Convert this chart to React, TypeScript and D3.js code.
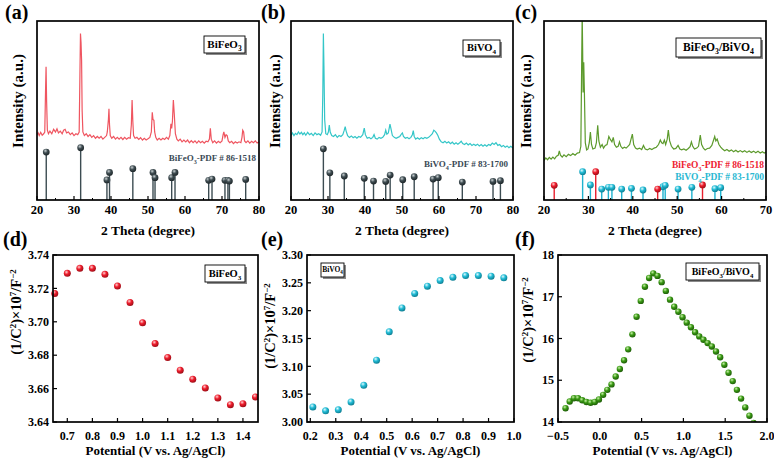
import React from "react";
import * as d3 from "d3";

const FONT = "'Liberation Serif','Times New Roman',Times,serif";

// ---------- XRD data (2θ, intensity in % of frame height) ----------
const bfoPattern: [number, number][] = [
  [20.0,36.5],[20.3,37.5],[20.6,36],[21.0,37.8],[21.4,36.2],[21.8,37],[22.1,38],[22.3,60],[22.45,74.5],[22.6,55],[22.8,39],
  [23.1,37],[23.5,38.5],[24.0,37],[24.5,39.5],[25.0,38],[25.4,39.8],[25.8,37.5],[26.3,38.5],[26.8,37],[27.2,39],[27.6,39.5],
  [28.0,37.5],[28.5,38],[29.0,36.5],[29.5,37.5],[30.0,36],[30.5,37],[31.0,36.5],[31.4,38],[31.6,70],[31.75,93],[31.9,88],
  [32.05,78],[32.2,50],[32.4,38],[32.8,36],[33.3,37],[33.8,35.5],[34.3,36.5],[34.8,35],[35.3,36],[35.8,34.5],[36.3,35.5],
  [36.8,34.5],[37.3,35.5],[37.8,34],[38.3,35],[38.8,36],[39.0,38],[39.3,45],[39.45,51],[39.6,42],[39.8,36],[40.2,34.5],
  [40.7,35.5],[41.2,34],[41.7,35],[42.2,34],[42.7,35],[43.2,33.8],[43.7,35],[44.2,34],[44.7,34.8],[45.2,34.5],[45.5,42],
  [45.7,55.8],[45.9,44],[46.1,36],[46.5,34.5],[47.0,35],[47.5,33.8],[48.0,34.8],[48.5,33.5],[49.0,34.5],[49.5,33.5],
  [50.0,34.2],[50.5,35],[50.9,38],[51.15,49],[51.35,45],[51.6,44.5],[51.8,38],[52.1,35],[52.5,33.5],[53.0,34.5],[53.5,33.5],
  [54.0,34.5],[54.5,33.8],[55.0,35],[55.5,34],[55.9,36],[56.2,42.5],[56.4,40],[56.6,44],[56.85,55.8],[57.1,48],[57.4,37],
  [57.8,34],[58.2,33],[58.7,34],[59.2,32.5],[59.7,33.5],[60.2,32.5],[60.7,33.5],[61.2,32],[61.7,33.2],[62.2,32],[62.7,33],
  [63.2,31.8],[63.7,33],[64.2,32],[64.7,32.8],[65.2,31.8],[65.7,32.8],[66.2,32.5],[66.6,34],[66.85,40],[67.1,34],[67.5,32],
  [68.0,33],[68.5,31.8],[69.0,32.8],[69.5,32],[70.0,33],[70.3,36.5],[70.5,38],[70.8,35],[71.1,36.5],[71.4,36],[71.7,33],
  [72.1,32],[72.6,32.8],[73.1,31.5],[73.6,32.5],[74.1,31.8],[74.6,32.5],[75.1,32],[75.4,35],[75.6,39],[75.85,38],[76.1,33],
  [76.5,32],[77.0,33],[77.5,31.8],[78.0,32.8],[78.5,32],[79.0,33],[79.5,31.8],[80.0,32.5],
];

const bvoPattern: [number, number][] = [
  [20.0,36],[20.4,37.5],[20.8,36],[21.2,37.2],[21.6,36.5],[22.0,38],[22.4,36.8],[22.8,37.8],[23.2,36.5],[23.6,37.5],
  [24.0,36.2],[24.5,37.8],[25.0,36.5],[25.5,37.2],[26.0,36],[26.5,37.5],[27.0,36.5],[27.5,37],[28.0,36.2],[28.4,38],
  [28.6,60],[28.75,93],[28.9,75],[29.1,45],[29.4,37],[29.8,36.5],[30.1,38],[30.35,41.8],[30.6,38],[31.0,36],[31.5,35.5],
  [32.0,36.5],[32.5,35],[33.0,36],[33.5,35.5],[34.0,36.5],[34.4,39],[34.65,41],[34.9,38.5],[35.3,36],[35.8,35],[36.3,35.8],
  [36.8,34.8],[37.3,35.5],[37.8,34.5],[38.3,35.5],[38.8,35],[39.4,36.5],[39.8,40.2],[40.1,36.5],[40.6,34.5],[41.1,35],
  [41.6,34.2],[42.1,35],[42.45,36.5],[42.8,34.5],[43.3,34],[43.8,35],[44.3,34.5],[44.8,35],[45.3,36.5],[45.6,39],[45.9,36.8],
  [46.3,37.5],[46.75,42.4],[47.0,40],[47.4,36],[47.9,35],[48.4,34.5],[48.9,35],[49.4,35.5],[49.9,37],[50.1,37.5],[50.4,35.5],
  [50.9,34.5],[51.4,35],[51.9,34.2],[52.4,35],[52.8,36.5],[53.05,38.8],[53.3,35.5],[53.7,34],[54.2,34.8],[54.7,34],
  [55.2,34.8],[55.7,34.2],[56.2,35],[56.7,34.5],[57.2,35],[57.7,36],[58.2,37],[58.6,39],[58.9,38.5],[59.3,37.5],[59.7,36],
  [60.1,34],[60.6,32.5],[61.1,32],[61.6,32.8],[62.1,31.8],[62.6,32.5],[63.1,31.5],[63.6,32.3],[64.1,31.2],[64.6,32],
  [65.1,31.2],[65.6,32],[66.0,32.8],[66.4,31.5],[66.9,31],[67.4,31.8],[67.9,30.8],[68.4,31.5],[68.9,30.5],[69.4,31.2],
  [69.9,30.5],[70.4,31.2],[70.9,30.2],[71.4,31],[71.9,30],[72.4,30.8],[72.9,30],[73.4,31],[73.9,30.5],[74.4,31.8],[74.9,31],
  [75.4,32],[75.9,30.5],[76.4,31],[76.9,29.8],[77.4,30.5],[77.9,29.5],[78.4,30.2],[78.9,29.2],[79.4,30],[80.0,29],
];

const compPattern: [number, number][] = [
  [20.0,22],[20.4,23.5],[20.8,22.5],[21.2,23.8],[21.6,22.8],[22.0,24],[22.4,23],[22.8,24.5],[23.2,25],[23.45,27.5],[23.7,25],
  [24.1,24],[24.5,25.2],[25.0,24.2],[25.5,25.5],[26.0,24.8],[26.5,26],[27.0,25],[27.5,26.2],[28.0,26.5],[28.3,30],[28.5,80],
  [28.6,104],[28.7,85],[28.8,60],[28.95,77],[29.1,60],[29.3,32],[29.6,28],[29.9,28.5],[30.2,32],[30.45,38],[30.7,31],
  [31.0,28.5],[31.5,29],[31.8,32],[32.1,41.8],[32.35,33],[32.7,29.5],[33.1,31],[33.4,29],[33.8,30.5],[34.2,31],[34.6,35.5],
  [34.9,34],[35.3,32.5],[35.6,35],[35.9,31],[36.3,29.5],[36.7,30],[37.0,32.5],[37.3,30],[37.7,28.8],[38.1,29.5],[38.5,29],
  [38.9,30],[39.3,31],[39.6,34],[39.9,36.8],[40.2,31],[40.6,29],[41.0,28.5],[41.5,29],[42.0,28.2],[42.4,30.5],[42.8,28.5],
  [43.3,28],[43.8,28.8],[44.3,28.2],[44.8,29],[45.3,29.5],[45.8,31],[46.2,33.5],[46.5,32],[46.8,31.5],[47.1,33.5],[47.4,31],
  [47.75,34],[48.0,39],[48.3,33],[48.7,30],[49.2,28.5],[49.7,28.8],[50.2,30.5],[50.6,28.5],[51.0,28],[51.5,28.5],[52.0,27.8],
  [52.5,28.8],[52.9,29.8],[53.2,32.5],[53.5,30],[53.9,28.5],[54.4,29],[54.8,30],[55.2,36.2],[55.5,31],[55.9,29],[56.3,28],
  [56.8,28.8],[57.3,29],[57.8,30.5],[58.2,33.5],[58.45,35.5],[58.7,33],[59.0,34],[59.4,31],[59.8,29.5],[60.2,28.5],[60.7,27.5],
  [61.2,28.2],[61.7,27.2],[62.2,28],[62.7,27],[63.2,27.8],[63.7,26.8],[64.2,27.6],[64.7,26.8],[65.2,27.5],[65.7,26.6],
  [66.2,27.4],[66.7,26.5],[67.2,27.3],[67.7,26.4],[68.2,27.2],[68.7,26.3],[69.2,27],[69.6,26.2],[70.0,26.8],
];

// reference sticks (2θ, height)
const bfoRefTheta = [22.5, 31.8, 38.9, 39.6, 45.9, 51.35, 51.9, 56.4, 57.3, 66.4, 67.3, 70.8, 71.6, 72.0, 76.4];
const bfoRefHeight = [26.8, 29.2, 11.2, 15.4, 17.5, 15.4, 12.5, 12.5, 15.4, 11, 11.7, 11, 11, 10.6, 11.5];
const bvoRefTheta = [28.75, 30.5, 34.4, 39.8, 42.3, 45.6, 46.8, 50.2, 53.3, 58.4, 59.8, 66.3, 74.6, 76.6];
const bvoRefHeight = [28.6, 15.2, 13.4, 12.1, 10.6, 10.4, 13.9, 11.3, 13, 11.7, 12.5, 10, 10.4, 10.8];
const compBfoRefTheta = [22.3, 31.65, 45.6, 55.7];
const compBfoRefHeight = [8.2, 15.8, 6.1, 8.4];
const compBvoRefTheta = [28.7, 30.45, 33.0, 34.5, 35.3, 37.5, 39.7, 42.3, 46.8, 47.3, 50.2, 53.3, 58.5, 59.8];
const compBvoRefHeight = [15.8, 8.4, 6.1, 7.1, 7.1, 6.1, 6.5, 5.6, 7.4, 8.2, 6.1, 7.1, 6.3, 6.9];

const xrdTicksAB = [20, 30, 40, 50, 60, 70, 80];
const xrdTicksC = [20, 30, 40, 50, 60, 70];

// ---------- Mott-Schottky data ----------
const bfoPotential = [0.65, 0.70, 0.75, 0.80, 0.85, 0.90, 0.95, 1.00, 1.05, 1.10, 1.15, 1.20, 1.25, 1.30, 1.35, 1.40, 1.45];
const bfoMS = [3.717, 3.729, 3.732, 3.732, 3.7284, 3.7214, 3.7116, 3.6994, 3.687, 3.6786, 3.671, 3.6656, 3.6604, 3.6544, 3.6504, 3.651, 3.655];
const bvoPotential = [0.21, 0.26, 0.31, 0.36, 0.41, 0.46, 0.51, 0.56, 0.61, 0.66, 0.71, 0.76, 0.81, 0.86, 0.91, 0.96];
const bvoMS = [3.027, 3.020, 3.022, 3.036, 3.066, 3.111, 3.162, 3.205, 3.231, 3.244, 3.254, 3.260, 3.263, 3.263, 3.262, 3.259];
const compPotential = [
  -0.41, -0.36, -0.31, -0.26, -0.21, -0.16, -0.11, -0.06, -0.01, 0.04, 0.09, 0.14, 0.19, 0.24, 0.29, 0.34, 0.39, 0.44,
  0.49, 0.54, 0.59, 0.64, 0.69, 0.74, 0.79, 0.84, 0.89, 0.94, 0.99, 1.04, 1.09, 1.14, 1.19, 1.24, 1.29, 1.34, 1.39,
  1.44, 1.49, 1.54, 1.59, 1.64, 1.69, 1.74, 1.79, 1.84,
];
const compMS = [
  14.33, 14.49, 14.57, 14.57, 14.52, 14.48, 14.46, 14.48, 14.54, 14.65, 14.77, 14.90, 15.09, 15.27, 15.48, 15.74, 16.10,
  16.52, 16.90, 17.24, 17.45, 17.56, 17.50, 17.35, 17.14, 16.93, 16.76, 16.64, 16.51, 16.38, 16.27, 16.15, 16.05, 15.97,
  15.89, 15.81, 15.69, 15.55, 15.37, 15.18, 14.98, 14.77, 14.56, 14.35, 14.15, 13.98,
];
const bfoMSTicksX = [0.7, 0.8, 0.9, 1.0, 1.1, 1.2, 1.3, 1.4];
const bfoMSTicksY = [3.64, 3.66, 3.68, 3.70, 3.72, 3.74];
const bvoMSTicksX = [0.2, 0.3, 0.4, 0.5, 0.6, 0.7, 0.8, 0.9, 1.0];
const bvoMSTicksY = [3.0, 3.05, 3.1, 3.15, 3.2, 3.25, 3.3];
const compMSTicksX = [-0.5, 0.0, 0.5, 1.0, 1.5, 2.0];
const compMSTicksY = [14, 15, 16, 17, 18];

type Box = { x0: number; x1: number; y0: number; y1: number };

function Sub({ t, fs }: { t: string; fs: number }) {
  return <tspan baselineShift={-fs * 0.28} fontSize={fs * 0.68}>{t}</tspan>;
}
function Sup({ t, fs }: { t: string; fs: number }) {
  return <tspan baselineShift={fs * 0.38} fontSize={fs * 0.62}>{t}</tspan>;
}

function LegendBox({ x, y, w, h, fs, children }: any) {
  return (
    <g>
      <rect x={x + 2} y={y + 2} width={w} height={h} fill="#8a8a8a" />
      <rect x={x} y={y} width={w} height={h} fill="#fff" stroke="#000" strokeWidth={0.9} />
      <text x={x + w / 2} y={y + h / 2} dy="0.3em" textAnchor="middle" fontSize={fs}>{children}</text>
    </g>
  );
}

function Stem({ x, yb, yt, ball, stem }: any) {
  return (
    <g>
      <line x1={x} x2={x} y1={yb} y2={yt} stroke={stem} strokeWidth={1.4} />
      <circle cx={x} cy={yt} r={3.4} fill={`url(#${ball})`} />
    </g>
  );
}

function XRDPanel({ box, ticks, xmax, pattern, color, id, label, children }: any) {
  const x = d3.scaleLinear().domain([20, xmax]).range([box.x0, box.x1]);
  const y = d3.scaleLinear().domain([0, 100]).range([box.y1, box.y0]);
  const line = d3.line<[number, number]>().x(d => x(d[0])).y(d => y(d[1]));
  const minor = d3.range(25, xmax, 10);
  return (
    <g>
      <defs>
        <clipPath id={id}>
          <rect x={box.x0} y={box.y0} width={box.x1 - box.x0} height={box.y1 - box.y0} />
        </clipPath>
      </defs>
      <g clipPath={`url(#${id})`}>
        <path d={line(pattern) || ""} fill="none" stroke={color} strokeWidth={1.2} />
        {children(x, y)}
      </g>
      <rect x={box.x0} y={box.y0} width={box.x1 - box.x0} height={box.y1 - box.y0} fill="none" stroke="#000" strokeWidth={1.7} />
      {ticks.map((t: number) => (
        <g key={t}>
          <line x1={x(t)} x2={x(t)} y1={box.y1} y2={box.y1 - 4} stroke="#000" strokeWidth={1.2} />
          <text x={x(t)} y={box.y1 + 14} textAnchor="middle" fontSize={12.5}>{t}</text>
        </g>
      ))}
      {minor.map((t: number) => (
        <line key={"m" + t} x1={x(t)} x2={x(t)} y1={box.y1} y2={box.y1 - 2} stroke="#000" strokeWidth={1} />
      ))}
      <text x={(box.x0 + box.x1) / 2} y={235} textAnchor="middle" fontSize={13.5}>2 Theta (degree)</text>
      <text x={label.yx} y={101} textAnchor="middle" fontSize={15} transform={`rotate(-90 ${label.yx} 101)`}>Intensity (a.u.)</text>
      <text x={label.px} y={19} fontSize={20}>{label.p}</text>
    </g>
  );
}

function MSPanel({ box, xd, yd, xs, ys, ticksX, ticksY, fmtX, fmtY, ball, r, label }: any) {
  const x = d3.scaleLinear().domain(xd).range([box.x0, box.x1]);
  const y = d3.scaleLinear().domain(yd).range([box.y1, box.y0]);
  const id = "clip-" + ball;
  const fs = 14.5;
  return (
    <g>
      <defs>
        <clipPath id={id}>
          <rect x={box.x0 - 6} y={box.y0} width={box.x1 - box.x0 + 6} height={box.y1 - box.y0} />
        </clipPath>
      </defs>
      <g clipPath={`url(#${id})`}>
        {xs.map((v: number, i: number) => (
          <circle key={i} cx={x(v)} cy={y(ys[i])} r={r} fill={`url(#${ball})`} />
        ))}
      </g>
      <rect x={box.x0} y={box.y0} width={box.x1 - box.x0} height={box.y1 - box.y0} fill="none" stroke="#000" strokeWidth={1.7} />
      {ticksX.map((t: number) => (
        <g key={"x" + t}>
          <line x1={x(t)} x2={x(t)} y1={box.y1} y2={box.y1 - 4} stroke="#000" strokeWidth={1.2} />
          <text x={x(t)} y={440} textAnchor="middle" fontSize={12}>{fmtX(t)}</text>
        </g>
      ))}
      {ticksY.map((t: number) => (
        <g key={"y" + t}>
          <line x1={box.x0} x2={box.x0 + 4} y1={y(t)} y2={y(t)} stroke="#000" strokeWidth={1.2} />
          <text x={box.x0 - 4} y={y(t)} dy="0.35em" textAnchor="end" fontSize={12}>{fmtY(t)}</text>
        </g>
      ))}
      <text x={(box.x0 + box.x1) / 2} y={455} textAnchor="middle" fontSize={13}>Potential (V vs. Ag/AgCl)</text>
      <text x={label.yx} y={label.yy} textAnchor="middle" fontSize={fs} transform={`rotate(-90 ${label.yx} ${label.yy})`}>
        (1/C<Sup t="2" fs={fs} />)×10<Sup t="7" fs={fs} />/F<Sup t="−2" fs={fs} />
      </text>
      <text x={label.px} y={246} fontSize={20}>{label.p}</text>
    </g>
  );
}

function Grad({ id, light, mid, dark }: any) {
  return (
    <radialGradient id={id} cx="0.38" cy="0.32" r="0.7">
      <stop offset="0" stopColor={light} />
      <stop offset="0.45" stopColor={mid} />
      <stop offset="1" stopColor={dark} />
    </radialGradient>
  );
}

export default function App() {
  const boxA: Box = { x0: 37, x1: 259, y0: 21, y1: 200 };
  const boxB: Box = { x0: 291, x1: 513, y0: 21, y1: 200 };
  const boxC: Box = { x0: 544, x1: 766, y0: 21, y1: 200 };
  const boxD: Box = { x0: 53, x1: 258, y0: 255, y1: 422 };
  const boxE: Box = { x0: 307, x1: 514, y0: 255, y1: 422 };
  const boxF: Box = { x0: 558, x1: 767, y0: 255, y1: 422 };
  const stemCol = "#3c4c52";
  return (
    <svg width={774} height={459} style={{ position: "absolute", left: 0, top: 0, background: "#fff" }}
      fontFamily={FONT} fontWeight="bold">
      <defs>
        <Grad id="ball-gray" light="#c9d0d2" mid="#3f4d52" dark="#1c2427" />
        <Grad id="ball-red" light="#ffd0d0" mid="#ee1c2c" dark="#9a0d16" />
        <Grad id="ball-cyan" light="#e0fbff" mid="#22bcd6" dark="#0d7c90" />
        <Grad id="ball-green" light="#c8f0a8" mid="#3a9a14" dark="#1c5a06" />
      </defs>
      <rect x={0} y={0} width={774} height={459} fill="#fff" />

      {/* (a) */}
      <XRDPanel box={boxA} ticks={xrdTicksAB} xmax={80} pattern={bfoPattern} color="#ef5560" id="clipA"
        label={{ yx: 23, px: 5, p: "(a)" }}>
        {(x: any, y: any) => bfoRefTheta.map((t, i) => (
          <Stem key={i} x={x(t)} yb={boxA.y1} yt={y(bfoRefHeight[i])} ball="ball-gray" stem={stemCol} />
        ))}
      </XRDPanel>
      <text x={256} y={161} textAnchor="end" fontSize={9} fill="#3a4a55">BiFeO<Sub t="3" fs={9} />-PDF # 86-1518</text>
      <LegendBox x={204} y={36} w={41} h={17} fs={11}>BiFeO<Sub t="3" fs={11} /></LegendBox>

      {/* (b) */}
      <XRDPanel box={boxB} ticks={xrdTicksAB} xmax={80} pattern={bvoPattern} color="#34c6c8" id="clipB"
        label={{ yx: 280, px: 261, p: "(b)" }}>
        {(x: any, y: any) => bvoRefTheta.map((t, i) => (
          <Stem key={i} x={x(t)} yb={boxB.y1} yt={y(bvoRefHeight[i])} ball="ball-gray" stem={stemCol} />
        ))}
      </XRDPanel>
      <text x={508} y={167} textAnchor="end" fontSize={9} fill="#3a4a55">BiVO<Sub t="4" fs={9} />-PDF # 83-1700</text>
      <LegendBox x={463} y={40} w={37} h={16} fs={10.5}>BiVO<Sub t="4" fs={10.5} /></LegendBox>

      {/* (c) */}
      <XRDPanel box={boxC} ticks={xrdTicksC} xmax={70} pattern={compPattern} color="#5c9a2c" id="clipC"
        label={{ yx: 531, px: 515, p: "(c)" }}>
        {(x: any, y: any) => (
          <g>
            {compBvoRefTheta.map((t, i) => (
              <Stem key={"v" + i} x={x(t)} yb={boxC.y1} yt={y(compBvoRefHeight[i])} ball="ball-cyan" stem="#1fb3cf" />
            ))}
            {compBfoRefTheta.map((t, i) => (
              <Stem key={"f" + i} x={x(t)} yb={boxC.y1} yt={y(compBfoRefHeight[i])} ball="ball-red" stem="#e8202e" />
            ))}
          </g>
        )}
      </XRDPanel>
      <text x={764} y={168} textAnchor="end" fontSize={9.5} fill="#ee2232">BiFeO<Sub t="3" fs={9.5} />-PDF # 86-1518</text>
      <text x={764} y={180} textAnchor="end" fontSize={9.5} fill="#2ab8d2">BiVO<Sub t="4" fs={9.5} />-PDF # 83-1700</text>
      <LegendBox x={676} y={38} w={85} h={19} fs={11.5}>BiFeO<Sub t="3" fs={11.5} />/BiVO<Sub t="4" fs={11.5} /></LegendBox>

      {/* (d) */}
      <MSPanel box={boxD} xd={[0.643, 1.46]} yd={[3.64, 3.74]} xs={bfoPotential} ys={bfoMS}
        ticksX={bfoMSTicksX} ticksY={bfoMSTicksY} fmtX={d3.format(".1f")} fmtY={d3.format(".2f")}
        ball="ball-red" r={3.5} label={{ yx: 21, yy: 312, px: 3, p: "(d)" }} />
      <LegendBox x={205} y={265} w={40} h={17} fs={10.5}>BiFeO<Sub t="3" fs={10.5} /></LegendBox>

      {/* (e) */}
      <MSPanel box={boxE} xd={[0.187, 1.0]} yd={[3.0, 3.3]} xs={bvoPotential} ys={bvoMS}
        ticksX={bvoMSTicksX} ticksY={bvoMSTicksY} fmtX={d3.format(".1f")} fmtY={d3.format(".2f")}
        ball="ball-cyan" r={3.5} label={{ yx: 275, yy: 326, px: 261, p: "(e)" }} />
      <LegendBox x={321} y={263} w={23} h={14} fs={7.5}>BiVO<Sub t="4" fs={7.5} /></LegendBox>

      {/* (f) */}
      <MSPanel box={boxF} xd={[-0.5, 2.0]} yd={[14, 18]} xs={compPotential} ys={compMS}
        ticksX={compMSTicksX} ticksY={compMSTicksY} fmtX={d3.format(".1f")} fmtY={d3.format("d")}
        ball="ball-green" r={3.2} label={{ yx: 533, yy: 320, px: 515, p: "(f)" }} />
      <LegendBox x={686} y={263} w={73} h={17} fs={10}>BiFeO<Sub t="3" fs={10} />/BiVO<Sub t="4" fs={10} /></LegendBox>
    </svg>
  );
}
